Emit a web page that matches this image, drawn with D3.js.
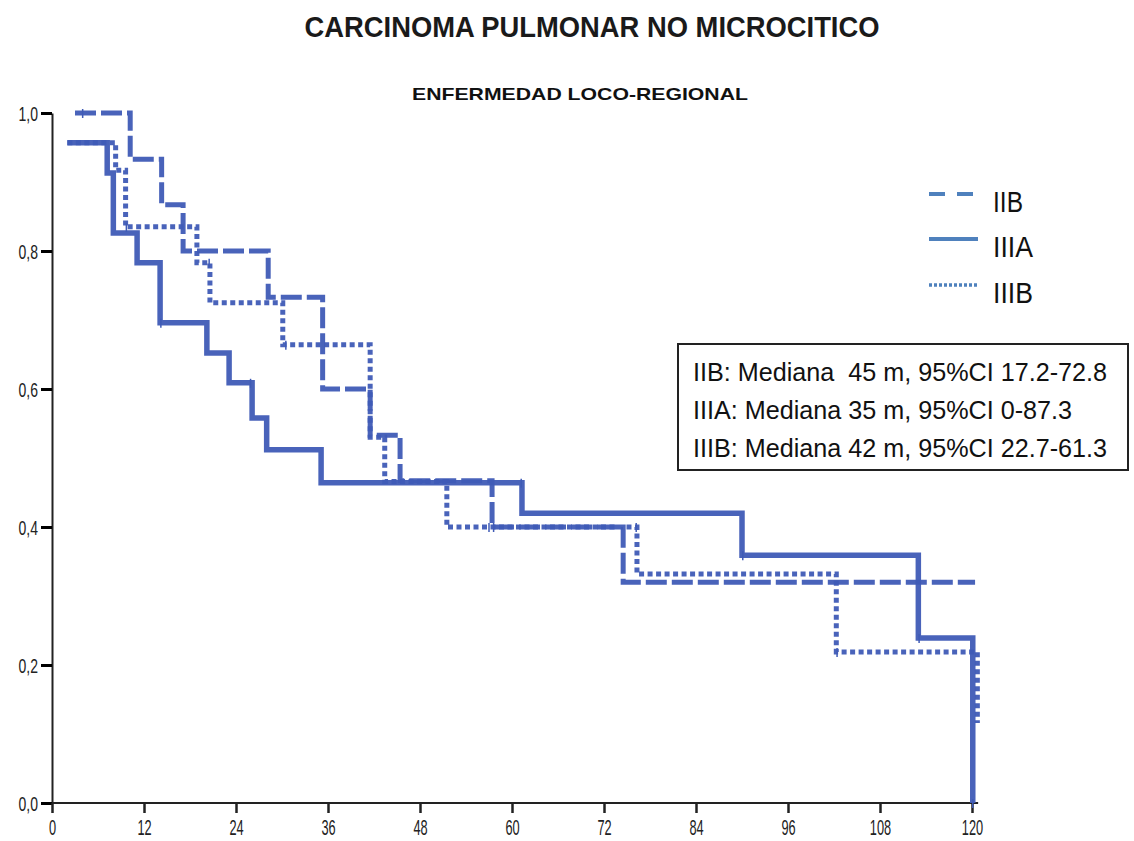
<!DOCTYPE html>
<html>
<head>
<meta charset="utf-8">
<script src="https://cdn.jsdelivr.net/npm/d3@7"></script>
<style>
  body { margin: 0; background: #fff; }
  svg { display: block; }
</style>
</head>
<body>
<svg id="chart"></svg>
<script>
const title = "CARCINOMA PULMONAR NO MICROCITICO";
const subtitle = "ENFERMEDAD LOCO-REGIONAL";

const xTicks = [0, 12, 24, 36, 48, 60, 72, 84, 96, 108, 120];
const yTicks = [0, 0.2, 0.4, 0.6, 0.8, 1.0];
const yTickLabels = ["0,0", "0,2", "0,4", "0,6", "0,8", "1,0"];

// Kaplan-Meier steps: survival value that starts at each time (months)
const iibTimes = [3, 10.2, 14.3, 17.1, 28.2, 35.3, 41.5, 45.4, 57.4, 74.5, 120.4];
const iibSurv  = [1.0, 0.933, 0.867, 0.80, 0.733, 0.60, 0.533, 0.467, 0.40, 0.32, 0.32];
const iibCensor = [4, 57.6];

const iiiaTimes = [2, 7.2, 8.0, 11.1, 14.1, 20.2, 23.1, 26.1, 28, 35.1, 61.3, 90, 113, 120.1];
const iiiaSurv  = [0.957, 0.913, 0.826, 0.783, 0.696, 0.652, 0.609, 0.558, 0.512, 0.464, 0.42, 0.359, 0.239, 0];
const iiiaCensor = [14.2, 25.9, 61.2, 90.1, 113.1, 120.1];

const iiibTimes = [2, 8.3, 9.6, 18.9, 20.6, 30.1, 41.5, 43.4, 51.5, 76.3, 102.3, 120.7];
const iiibSurv  = [0.957, 0.917, 0.835, 0.783, 0.725, 0.664, 0.53, 0.466, 0.40, 0.332, 0.219, 0.116];
const iiibCensor = [9.7, 20.5, 30.5, 57.0, 76.2, 102.4];

const legendLabels = ["IIB", "IIIA", "IIIB"];
const boxLines = [
  "IIB: Mediana  45 m, 95%CI 17.2-72.8",
  "IIIA: Mediana 35 m, 95%CI 0-87.3",
  "IIIB: Mediana 42 m, 95%CI 22.7-61.3"
];

const width = 1134, height = 841;
const curveColor = "#3f5bb6";
const legendColor = "#4f81bd";

const svg = d3.select("#chart").attr("width", width).attr("height", height);

const x = d3.scaleLinear().domain([0, 120]).range([52, 972]);
const y = d3.scaleLinear().domain([0, 1]).range([803, 113]);

// titles
svg.append("text")
  .attr("x", 592).attr("y", 37)
  .attr("text-anchor", "middle")
  .attr("font-family", "Liberation Sans, Arial, sans-serif")
  .attr("font-size", 29)
  .attr("font-weight", "bold")
  .attr("fill", "#1a1a1a")
  .attr("textLength", 575)
  .attr("lengthAdjust", "spacingAndGlyphs")
  .text(title);

svg.append("text")
  .attr("x", 580).attr("y", 100)
  .attr("text-anchor", "middle")
  .attr("font-family", "Liberation Sans, Arial, sans-serif")
  .attr("font-weight", "bold")
  .attr("font-size", 17)
  .attr("fill", "#111")
  .attr("textLength", 336)
  .attr("lengthAdjust", "spacingAndGlyphs")
  .text(subtitle);

// axes
const yAxis = svg.append("g")
  .attr("transform", `translate(${x(0)},0)`)
  .call(d3.axisLeft(y).tickValues(yTicks).tickSize(11).tickSizeOuter(0)
    .tickFormat((d, i) => yTickLabels[i]));
yAxis.select(".domain").attr("stroke", "#222").attr("stroke-width", 2);
yAxis.selectAll(".tick line").attr("stroke", "#000").attr("stroke-width", 3);
yAxis.selectAll(".tick text")
  .attr("font-family", "Liberation Sans, Arial, sans-serif")
  .attr("font-size", 20)
  .attr("fill", "#222")
  .attr("x", -14 / 0.7)
  .attr("dy", "0.36em")
  .attr("transform", "scale(0.7,1)");

const xAxis = svg.append("g")
  .attr("transform", `translate(0,${y(0)})`)
  .call(d3.axisBottom(x).tickValues(xTicks).tickSize(10).tickSizeOuter(0));
xAxis.select(".domain").remove();
xAxis.append("line")
  .attr("x1", x(0)).attr("x2", x(120.8))
  .attr("stroke", "#222").attr("stroke-width", 2);
xAxis.selectAll(".tick line").attr("stroke", "#222").attr("stroke-width", 2.5);
xAxis.selectAll(".tick text")
  .attr("font-family", "Liberation Sans, Arial, sans-serif")
  .attr("font-size", 22)
  .attr("fill", "#222")
  .attr("y", 16)
  .attr("dy", "0.71em")
  .attr("transform", "scale(0.58,1)");

// curves
const series = [
  { times: iibTimes, surv: iibSurv, censor: iibCensor, dash: "21,5", width: 5 },
  { times: iiiaTimes, surv: iiiaSurv, censor: iiiaCensor, dash: null, width: 5.5 },
  { times: iiibTimes, surv: iiibSurv, censor: iiibCensor, dash: "5,3.5", width: 5 }
];

const line = d3.line()
  .x(d => x(d[0]))
  .y(d => y(d[1]))
  .curve(d3.curveStepAfter);

function survAt(s, t) {
  let v = s.surv[0];
  for (let i = 0; i < s.times.length; i++) {
    if (s.times[i] <= t) v = s.surv[i];
  }
  return v;
}

series.forEach(s => {
  const pts = s.times.map((t, i) => [t, s.surv[i]]);
  svg.append("path")
    .datum(pts)
    .attr("d", line)
    .attr("fill", "none")
    .attr("stroke", curveColor)
    .attr("stroke-width", s.width)
    .attr("stroke-dasharray", s.dash)
    .attr("opacity", 0.95);

  svg.append("g").selectAll("line")
    .data(s.censor)
    .join("line")
    .attr("x1", d => x(d)).attr("x2", d => x(d))
    .attr("y1", d => y(survAt(s, d)) - 4)
    .attr("y2", d => y(survAt(s, d)) + 5)
    .attr("stroke", curveColor)
    .attr("stroke-width", 1.5);
});

// legend
const legend = svg.append("g");
const legendStyles = [
  { dash: "16,12", width: 4 },
  { dash: null, width: 4 },
  { dash: "3,2", width: 3.5 }
];
const legendY = [194, 239, 285];
legendLabels.forEach((lab, i) => {
  legend.append("line")
    .attr("x1", 929).attr("x2", i === 0 ? 973 : 978)
    .attr("y1", legendY[i]).attr("y2", legendY[i])
    .attr("stroke", legendColor)
    .attr("stroke-width", legendStyles[i].width)
    .attr("stroke-dasharray", legendStyles[i].dash);
  legend.append("text")
    .attr("x", 993).attr("y", legendY[i] + 18)
    .attr("font-family", "Liberation Sans, Arial, sans-serif")
    .attr("font-size", 29)
    .attr("fill", "#111")
    .attr("textLength", lab.length === 3 ? 30 : 40)
    .attr("lengthAdjust", "spacingAndGlyphs")
    .text(lab);
});

// median box
const box = svg.append("g");
box.append("rect")
  .attr("x", 678).attr("y", 344)
  .attr("width", 450).attr("height", 126)
  .attr("fill", "#fff")
  .attr("stroke", "#222")
  .attr("stroke-width", 2);
const boxWidths = [414, 379, 414];
boxLines.forEach((txt, i) => {
  box.append("text")
    .attr("x", 693).attr("y", 381 + i * 38)
    .attr("font-family", "Liberation Sans, Arial, sans-serif")
    .attr("font-size", 25)
    .attr("fill", "#111")
    .style("white-space", "pre")
    .attr("textLength", boxWidths[i])
    .attr("lengthAdjust", "spacingAndGlyphs")
    .text(txt);
});
</script>
</body>
</html>
